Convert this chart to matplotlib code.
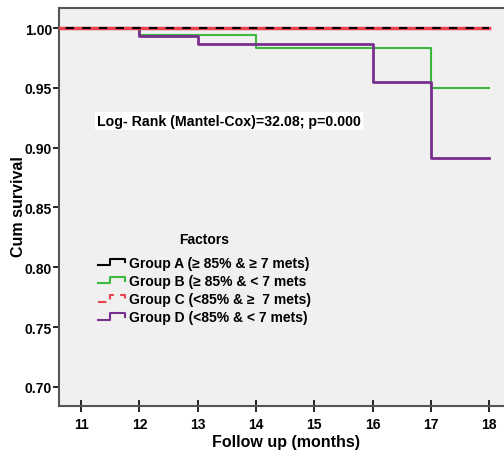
import matplotlib
matplotlib.use("Agg")
import matplotlib.pyplot as plt
from matplotlib.lines import Line2D
from matplotlib.legend_handler import HandlerBase

plt.rcParams['font.family'] = ['Liberation Sans', 'DejaVu Sans']
plt.rcParams['font.weight'] = 'bold'

# Data (step survival curves)
time_A = [0, 18]
surv_A = [1.0, 1.0]
time_B = [0, 12, 14, 17, 18]
surv_B = [1.0, 0.994, 0.983, 0.950, 0.950]
time_C = [0, 18]
surv_C = [1.0, 1.0]
time_D = [0, 12, 13, 16, 17, 18]
surv_D = [1.0, 0.993, 0.987, 0.955, 0.891, 0.891]

labels = ["Group A (\u2265 85% & \u2265 7 mets)",
          "Group B (\u2265 85% & < 7 mets",
          "Group C (<85% & \u2265  7 mets)",
          "Group D (<85% & < 7 mets)"]
xticks = [11, 12, 13, 14, 15, 16, 17, 18]
yticks = [0.70, 0.75, 0.80, 0.85, 0.90, 0.95, 1.00]

green = '#3cb93c'
purple = '#7a2f8e'
red = '#e8434f'

fig = plt.figure(figsize=(5.04, 4.52), dpi=100)
ax = fig.add_axes([0.117, 0.0996, 0.9, 0.8804])
ax.set_facecolor('#f0f0f0')

ax.step(time_B, surv_B, where='post', color=green, lw=1.5, zorder=3)
ax.step(time_D, surv_D, where='post', color=purple, lw=2.0, zorder=4)
ax.step(time_C, surv_C, where='post', color=red, lw=2.5, zorder=5)
ax.step(time_A, surv_A, where='post', color='black', lw=1.5,
        dashes=(4, 4), dash_capstyle='butt', zorder=6)

ax.set_xlim(10.62, 18.4)
ax.set_ylim(0.684, 1.0167)
ax.set_xticks(xticks)
ax.set_xticklabels([str(t) for t in xticks], fontsize=10, fontweight='bold')
ax.set_yticks(yticks)
ax.set_yticklabels([f"{t:.2f}" for t in yticks], fontsize=10, fontweight='bold')
ax.tick_params(axis='x', direction='inout', length=8, width=1.2, pad=4)
ax.tick_params(axis='y', direction='out', length=4, width=1.2, pad=1)
for s in ['left', 'bottom', 'top']:
    ax.spines[s].set_color('#555555')
    ax.spines[s].set_linewidth(1.5)
ax.spines['right'].set_visible(False)

ax.set_xlabel("Follow up (months)", fontsize=11.5, fontweight='bold', labelpad=2)
ax.set_ylabel("Cum survival", fontsize=11.5, fontweight='bold')
ax.yaxis.set_label_coords(-0.073, 0.503)

ax.text(0.084, 0.716, "Log- Rank (Mantel-Cox)=32.08; p=0.000", transform=ax.transAxes,
        fontsize=10.2, fontweight='bold', va='center', ha='left',
        bbox=dict(facecolor='white', edgecolor='none', pad=1.5))


class StepHandler(HandlerBase):
    def __init__(self, color, dashed=False, **kw):
        super().__init__(**kw)
        self.color = color
        self.dashed = dashed

    def create_artists(self, legend, orig_handle, xdescent, ydescent, width, height, fontsize, trans):
        x0 = -xdescent
        y0 = -ydescent
        xs = [x0, x0 + width * 0.45, x0 + width * 0.45, x0 + width, x0 + width]
        ys = [y0 + height * 0.15, y0 + height * 0.15, y0 + height * 0.85, y0 + height * 0.85, y0 + height * 0.45]
        ln = Line2D(xs, ys, color=self.color, lw=1.5, transform=trans)
        if self.dashed:
            ln.set_dashes((4, 3))
        return [ln]


handles = [Line2D([], []), Line2D([], []), Line2D([], []), Line2D([], [])]
hmap = {handles[0]: StepHandler('black'),
        handles[1]: StepHandler(green),
        handles[2]: StepHandler(red, dashed=True),
        handles[3]: StepHandler(purple)}
leg = ax.legend(handles, labels, handler_map=hmap, loc='upper left',
                bbox_to_anchor=(0.062, 0.465), frameon=False, title="Factors",
                prop={'size': 10, 'weight': 'bold'}, handlelength=1.9,
                handletextpad=0.3, labelspacing=0.3, borderpad=0.3)
leg.get_title().set_fontweight('bold')
leg.get_title().set_fontsize(10)
leg._legend_box.sep = 7

fig.savefig("out.png", dpi=100)
